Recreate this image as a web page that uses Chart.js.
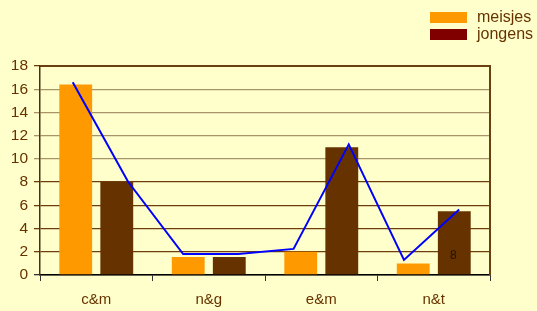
<!DOCTYPE html>
<html>
<head>
<meta charset="utf-8">
<script src="https://cdn.jsdelivr.net/npm/chart.js@4/dist/chart.umd.min.js"></script>
<style>
  html, body { margin: 0; padding: 0; background: #ffffcc; }
  #wrap { width: 537px; height: 311px; }
</style>
</head>
<body>
<div id="wrap"><canvas id="chart"></canvas></div>
<script>
'use strict';

// data
const categories = ['c&m', 'n&g', 'e&m', 'n&t'];
const seriesNames = ['meisjes', 'jongens'];
const meisjes = [16.4, 1.55, 2, 1];
const jongens = [8, 1.55, 11, 5.5];
const lineValues = [16.6, 8.05, 1.8, 1.8, 2.25, 11.25, 1.3, 5.65];
const yTicks = [0, 2, 4, 6, 8, 10, 12, 14, 16, 18];
const noteText = '8';
const noteValue = 1.65;

// the blue line runs on its own even spacing over the category axis
let lineStart = -0.209; // in category units
let lineStep = 0.4907;

const barColors = ['#ff9900', '#663300'];
const legendColors = ['#ff9900', '#800000'];
const textColor = '#663300';
const fontFamily = '"Liberation Sans", Arial, sans-serif';

// background, plot frame, legend and the little label
const frame = {
  id: 'frame',
  beforeDraw(chart) {
    let ctx = chart.ctx;
    ctx.save();
    ctx.fillStyle = '#ffffcc';
    ctx.fillRect(0, 0, chart.width, chart.height);
    ctx.restore();
  },
  beforeDatasetsDraw(chart) {
    let ctx = chart.ctx;
    let a = chart.chartArea;
    ctx.save();
    ctx.strokeStyle = '#6b4010';
    ctx.lineWidth = 2;
    ctx.beginPath();
    ctx.moveTo(a.left, a.top);
    ctx.lineTo(a.right, a.top);
    ctx.lineTo(a.right, a.bottom);
    ctx.stroke();
    ctx.restore();
  },
  afterDraw(chart) {
    let ctx = chart.ctx;
    ctx.save();
    // legend, stacked at top right
    ctx.font = '16px ' + fontFamily;
    ctx.textBaseline = 'middle';
    seriesNames.forEach((name, i) => {
      let y = 12 + i * 17;
      ctx.fillStyle = legendColors[i];
      ctx.fillRect(430, y, 37, 11);
      ctx.fillStyle = textColor;
      ctx.fillText(name, 477, y + 5.5);
    });
    // small value label in the last brown bar
    let bar = chart.getDatasetMeta(1).data[3];
    ctx.font = '12px ' + fontFamily;
    ctx.fillStyle = '#221100';
    ctx.textAlign = 'center';
    ctx.fillText(noteText, bar.x - 1, chart.scales.y.getPixelForValue(noteValue));
    ctx.restore();
  }
};

const data = {
  labels: categories,
  datasets: [
    {
      label: seriesNames[0],
      data: meisjes,
      backgroundColor: barColors[0],
      categoryPercentage: 0.73,
      barPercentage: 0.8,
      order: 1,
    },
    {
      label: seriesNames[1],
      data: jongens,
      backgroundColor: barColors[1],
      categoryPercentage: 0.73,
      barPercentage: 0.8,
      order: 1,
    },
    {
      type: 'line',
      label: 'lijn',
      parsing: false,
      data: lineValues.map((v, i) => ({ x: lineStart + i * lineStep, y: v })),
      borderColor: '#0000ff',
      borderWidth: 2,
      pointRadius: 0,
      tension: 0,
      fill: false,
      order: 0,
    },
  ],
};

const config = {
  type: 'bar',
  data: data,
  plugins: [frame],
  options: {
    responsive: true,
    maintainAspectRatio: false,
    animation: false,
    layout: { padding: { top: 66, right: 47, left: 0, bottom: 0 } },
    plugins: {
      legend: { display: false },
      tooltip: { enabled: false },
    },
    scales: {
      x: {
        min: 0,
        max: categories.length - 1,
        grid: {
          offset: true,
          drawOnChartArea: false,
          drawTicks: true,
          tickLength: 6,
          color: '#333333',
        },
        border: { color: '#000000', width: 1.5 },
        ticks: {
          color: textColor,
          font: { family: fontFamily, size: 15 },
          padding: 10,
        },
        afterFit(scale) { scale.height = 36; },
      },
      y: {
        min: 0,
        max: 18,
        afterBuildTicks(scale) {
          scale.ticks = yTicks.map(v => ({ value: v }));
        },
        grid: {
          color(c) {
            let v = c.tick ? c.tick.value : 0;
            if (v === 0) return '#333333';
            if (v >= 10 && v < 18) return '#a89468';
            return '#6e3d0c';
          },
          lineWidth: 1.3,
          tickLength: 6,
        },
        border: { color: '#4a3010', width: 1.5 },
        ticks: {
          color: textColor,
          font: { family: fontFamily, size: 15.5 },
          padding: 6,
        },
        afterFit(scale) { scale.width = 40; },
      },
    },
  },
};

new Chart(document.getElementById('chart'), config);
</script>
</body>
</html>
